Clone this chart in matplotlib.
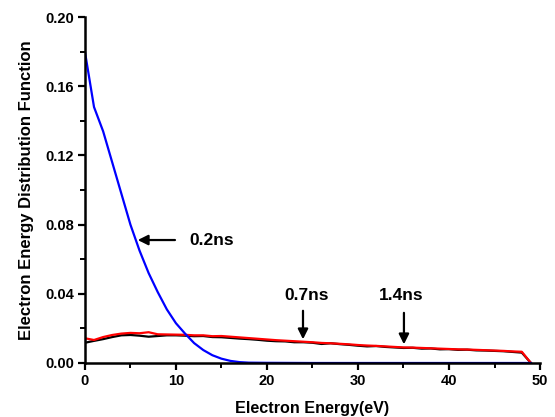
import matplotlib.pyplot as plt
from matplotlib.ticker import MultipleLocator

plt.rcParams['font.family'] = ['Liberation Sans', 'DejaVu Sans']
plt.rcParams['font.weight'] = 'bold'

# 0.2 ns
x_02 = [0, 1, 2, 3, 4, 5, 6, 7, 8, 9, 10, 11, 12, 13, 14, 15, 16, 17, 18, 20, 25, 30, 35, 40, 45, 49]
y_02 = [0.180, 0.148, 0.134, 0.116, 0.098, 0.080, 0.065, 0.052, 0.041, 0.031, 0.023, 0.017,
        0.0115, 0.0075, 0.0045, 0.0025, 0.0012, 0.0005, 0.0002, 0.0001, 0.0, 0.0, 0.0, 0.0, 0.0, 0.0]

# 0.7 ns
x_07 = [0, 1, 2, 3, 4, 5, 6, 7, 8, 9, 10, 11, 12, 13, 14, 15, 16, 17, 18, 19, 20, 21, 22, 23, 24,
        25, 26, 27, 28, 29, 30, 31, 32, 33, 34, 35, 36, 37, 38, 39, 40, 41, 42, 43, 44, 45, 46, 47, 48, 49]
y_07 = [0.0117, 0.0128, 0.0138, 0.0150, 0.0160, 0.0162, 0.0158, 0.0152, 0.0156, 0.0160, 0.0160, 0.0158,
        0.0155, 0.0156, 0.0150, 0.0149, 0.0145, 0.0141, 0.0138, 0.0134, 0.0129, 0.0126, 0.0125, 0.0120, 0.0120,
        0.0117, 0.0110, 0.0114, 0.0109, 0.0105, 0.0100, 0.0096, 0.0098, 0.0093, 0.0090, 0.0087, 0.0088, 0.0083,
        0.0084, 0.0079, 0.0080, 0.0076, 0.0077, 0.0073, 0.0072, 0.0070, 0.0068, 0.0064, 0.0060, 0.0]

# 1.4 ns
x_14 = [0, 1, 2, 3, 4, 5, 6, 7, 8, 9, 10, 11, 12, 13, 14, 15, 16, 17, 18, 19, 20, 21, 22, 23, 24,
        25, 26, 27, 28, 29, 30, 31, 32, 33, 34, 35, 36, 37, 38, 39, 40, 41, 42, 43, 44, 45, 46, 47, 48, 49]
y_14 = [0.0143, 0.0133, 0.0150, 0.0162, 0.0170, 0.0174, 0.0172, 0.0178, 0.0166, 0.0165, 0.0164, 0.0163,
        0.0160, 0.0160, 0.0155, 0.0156, 0.0152, 0.0148, 0.0144, 0.0140, 0.0136, 0.0132, 0.0129, 0.0126, 0.0123,
        0.0120, 0.0116, 0.0114, 0.0111, 0.0108, 0.0104, 0.0101, 0.0099, 0.0096, 0.0093, 0.0090, 0.0089, 0.0087,
        0.0085, 0.0083, 0.0081, 0.0079, 0.0078, 0.0076, 0.0074, 0.0072, 0.0070, 0.0067, 0.0065, 0.0]

fig = plt.figure(figsize=(5.55, 4.17), dpi=100)
ax = fig.add_axes([0.153, 0.1295, 0.820, 0.8295])

ax.plot(x_07, y_07, color='black', lw=1.6)
ax.plot(x_14, y_14, color='#ff0000', lw=1.6)
ax.plot(x_02, y_02, color='#0000ff', lw=1.6)

ax.set_xlim(0, 50)
ax.set_ylim(0, 0.20)
ax.xaxis.set_major_locator(MultipleLocator(10))
ax.xaxis.set_minor_locator(MultipleLocator(5))
ax.yaxis.set_major_locator(MultipleLocator(0.04))
ax.yaxis.set_minor_locator(MultipleLocator(0.02))
ax.yaxis.set_major_formatter(plt.FormatStrFormatter('%.2f'))
ax.spines['top'].set_visible(False)
ax.spines['right'].set_visible(False)
ax.spines['left'].set_linewidth(1.8)
ax.spines['bottom'].set_linewidth(1.8)
ax.tick_params(which='major', direction='out', length=5, width=1.6, labelsize=10.5, pad=3)
ax.tick_params(which='minor', direction='out', length=3.5, width=1.4)

ax.set_xlabel('Electron Energy(eV)', fontsize=11.6, fontweight='bold', labelpad=9)
ax.set_ylabel('Electron Energy Distribution Function', fontsize=12, fontweight='bold', labelpad=8)

arrow = dict(arrowstyle='-|>', color='black', lw=1.6, mutation_scale=15)
ax.annotate('', xy=(5.5, 0.0711), xytext=(10.2, 0.0711), arrowprops=arrow)
ax.text(11.5, 0.0711, '0.2ns', fontsize=12.5, fontweight='bold', va='center', ha='left')
ax.annotate('', xy=(23.96, 0.0121), xytext=(23.96, 0.0318), arrowprops=arrow)
ax.text(24.4, 0.0393, '0.7ns', fontsize=12.5, fontweight='bold', va='center', ha='center')
ax.annotate('', xy=(35.05, 0.0092), xytext=(35.05, 0.0306), arrowprops=arrow)
ax.text(34.8, 0.0393, '1.4ns', fontsize=12.5, fontweight='bold', va='center', ha='center')

fig.savefig('out.png', dpi=100)
